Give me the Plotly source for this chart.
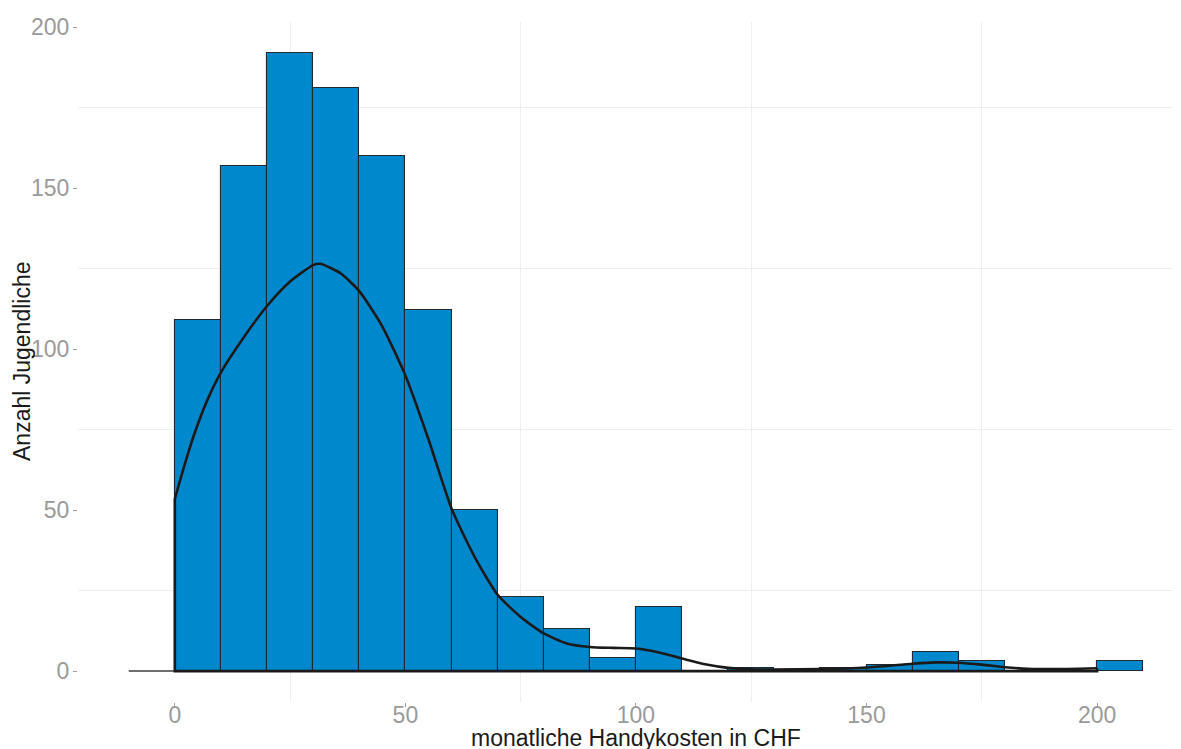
import plotly.graph_objects as go

# Histogram bins (left edges, width 10 CHF) and counts
bin_left = [0, 10, 20, 30, 40, 50, 60, 70, 80, 90, 100, 110, 120, 130, 140, 150, 160, 170, 180, 190, 200]
counts = [109, 157, 192, 181, 160, 112, 50, 23, 13, 4, 20, 0, 1, 0, 1, 2, 6, 3, 0, 0, 3]
bin_width = 10

# Density curve (scaled to counts)
dens_x = [0, 2, 4, 7, 10, 15, 20, 25, 30, 31.5, 36, 40, 45, 50, 55, 60, 65, 70, 75, 80, 85,
          90, 95, 100, 105, 110, 115, 120, 126, 130, 140, 150, 160, 165, 170, 175, 180, 185, 190, 200]
dens_y = [53.5, 63.5, 72.7, 84.0, 92.8, 103.8, 113.4, 121.0, 126.1, 126.5, 123.5, 118.0, 107.0,
          91.8, 72.0, 50.5, 35.5, 23.7, 16.8, 11.7, 8.6, 7.5, 7.2, 7.0, 5.8, 3.9, 2.1, 1.0, 0.5,
          0.5, 0.6, 1.1, 2.3, 2.7, 2.6, 2.0, 1.2, 0.7, 0.6, 0.9]

x_ticks = [0, 50, 100, 150, 200]
y_ticks = [0, 50, 100, 150, 200]
x_title = "monatliche Handykosten in CHF"
y_title = "Anzahl Jugendliche"

centers = [b + bin_width / 2 for b in bin_left]
nz_c = [c for c, n in zip(centers, counts) if n > 0]
nz_n = [n for n in counts if n > 0]

fig = go.Figure()

# empty bin left of zero
fig.add_trace(go.Scatter(x=[-10, 0], y=[0, 0], mode="lines",
                         line=dict(color="#6e6e6e", width=2), hoverinfo="skip", showlegend=False))

fig.add_trace(go.Bar(x=nz_c, y=nz_n, width=bin_width,
                     marker=dict(color="#0088cc", line=dict(color="#1f2a33", width=1.1)),
                     showlegend=False))

# density polygon edges
fig.add_trace(go.Scatter(x=[dens_x[0], dens_x[0], dens_x[-1], dens_x[-1]],
                         y=[dens_y[0], 0, 0, dens_y[-1]], mode="lines",
                         line=dict(color="#1a1a1a", width=2.6), hoverinfo="skip", showlegend=False))
fig.add_trace(go.Scatter(x=dens_x, y=dens_y, mode="lines",
                         line=dict(color="#1a1a1a", width=2.6, shape="spline", smoothing=0.6),
                         showlegend=False))

font_fam = "Liberation Sans, Arial, Helvetica, sans-serif"
tick_font = dict(size=23, color="#9a9a9a", family=font_fam)

fig.update_layout(
    width=1173, height=741,
    margin=dict(l=70, r=0, t=14, b=47, autoexpand=False),
    paper_bgcolor="white", plot_bgcolor="white",
    bargap=0,
    font=dict(family=font_fam),
    xaxis=dict(range=[-21, 218.2], tickvals=x_ticks, showgrid=False, zeroline=False,
               showline=False, ticks="outside", ticklen=4, tickwidth=1, tickcolor="#a0a0a0",
               tickfont=tick_font, automargin=False, ticklabelstandoff=-12,
               minor=dict(tickvals=[25, 75, 125, 175], showgrid=True, gridcolor="#efefef",
                          gridwidth=1, ticks="")),
    yaxis=dict(range=[-9.6, 201.6], tickvals=y_ticks, showgrid=False, zeroline=False,
               showline=False, ticks="outside", ticklen=4, tickwidth=1, tickcolor="#a0a0a0",
               tickfont=tick_font, automargin=False, ticklabelstandoff=-1,
               minor=dict(tickvals=[25, 75, 125, 175], showgrid=True, gridcolor="#efefef",
                          gridwidth=1, ticks="")),
    annotations=[
        dict(text=x_title, xref="x", yref="paper", x=100, y=0, xanchor="center", yanchor="middle",
             yshift=-36, showarrow=False, font=dict(size=23, color="#1a1a1a", family=font_fam)),
        dict(text=y_title, xref="paper", yref="paper", x=0, y=0.5, xanchor="center",
             yanchor="middle", xshift=-56, textangle=-90, showarrow=False,
             font=dict(size=23, color="#1a1a1a", family=font_fam)),
    ],
)

fig.write_html("out.html")
